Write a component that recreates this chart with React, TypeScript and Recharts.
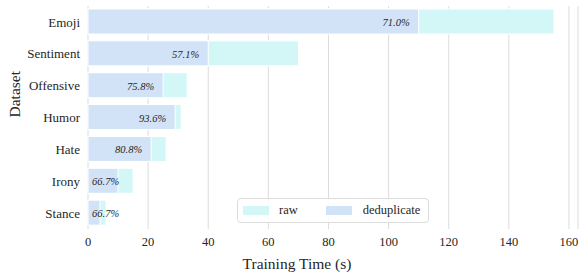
import { Bar, BarChart, CartesianGrid, LabelList, Legend, XAxis, YAxis } from "recharts";

const datasets = ["Emoji", "Sentiment", "Offensive", "Humor", "Hate", "Irony", "Stance"];
const rawTime = [155, 70, 33, 31, 26, 15, 6];
const dedupTime = [110, 40, 25, 29, 21, 10, 4];
const ratioLabels = ["71.0%", "57.1%", "75.8%", "93.6%", "80.8%", "66.7%", "66.7%"];
const xTicks = [0, 20, 40, 60, 80, 100, 120, 140, 160];

const RAW_COLOR = "#d3f7f7";
const DEDUP_COLOR = "#d2e3f8";
const TEXT = "#262626";
const FONT = "Times New Roman, Liberation Serif, Tinos, DejaVu Serif, serif";

const data = datasets.map((name, i) => ({
  name,
  raw: rawTime[i],
  dedup: dedupTime[i],
  label: ratioLabels[i],
}));

// label sits inside the dedup bar, right aligned, or left aligned when the bar is short
const RatioLabel = (props: any) => {
  const { x, y, width, height, index } = props;
  const txt = ratioLabels[index];
  const textW = 27;
  const right = x + width - 9;
  const fitsRight = right - textW >= x + 4;
  return (
    <text
      x={fitsRight ? right : x + 4}
      y={y + height / 2 + 1}
      textAnchor={fitsRight ? "end" : "start"}
      dominantBaseline="central"
      fontSize={10.5}
      fontStyle="italic"
      fill={TEXT}
      style={{ fontFamily: FONT }}
    >
      {txt}
    </text>
  );
};

const renderLegend = () => (
  <div
    style={{
      display: "flex",
      alignItems: "center",
      boxSizing: "border-box",
      width: 192,
      height: 25,
      border: "1px solid #dcdcdc",
      borderRadius: 4,
      background: "rgba(255,255,255,0.85)",
      fontFamily: FONT,
      fontSize: 12.5,
      color: TEXT,
      paddingLeft: 5,
    }}
  >
    <span style={{ width: 26, height: 9, background: RAW_COLOR, display: "inline-block" }} />
    <span style={{ marginLeft: 10 }}>raw</span>
    <span style={{ width: 26, height: 9, background: DEDUP_COLOR, display: "inline-block", marginLeft: 28 }} />
    <span style={{ marginLeft: 11 }}>deduplicate</span>
  </div>
);

const App = () => {
  return (
    <div style={{ position: "fixed", left: 0, top: 0, width: 586, height: 273, background: "#fff", fontFamily: FONT }}>
      <BarChart
        width={586}
        height={273}
        data={data}
        layout="vertical"
        margin={{ top: 6, right: 8, bottom: 0, left: 0 }}
        barSize={25}
        barGap={-25}
        style={{ fontFamily: FONT }}
      >
        <CartesianGrid horizontal={false} stroke="#dcdcdc" strokeWidth={1} />
        <XAxis
          type="number"
          domain={[0, 163]}
          ticks={xTicks}
          height={44}
          axisLine={false}
          tickLine={false}
          tick={{ fontSize: 12.5, fill: TEXT, fontFamily: FONT }}
          label={{ value: "Training Time (s)", position: "insideBottom", dx: -36, offset: 4, fontSize: 15.5, fill: TEXT, fontFamily: FONT }}
        />
        <YAxis
          type="category"
          dataKey="name"
          width={88}
          axisLine={false}
          tickLine={false}
          tick={{ fontSize: 13, fill: TEXT, fontFamily: FONT }}
          label={{ value: "Dataset", angle: -90, position: "insideLeft", offset: 14, fontSize: 15.5, fill: TEXT, fontFamily: FONT }}
        />
        <Legend
          layout="horizontal"
          verticalAlign="middle"
          align="center"
          wrapperStyle={{ position: "absolute", left: 237, top: 198, width: "auto", height: "auto" }}
          content={renderLegend}
        />
        <Bar dataKey="raw" name="raw" fill={RAW_COLOR} stroke="#fff" strokeWidth={1} isAnimationActive={false} />
        <Bar dataKey="dedup" name="deduplicate" fill={DEDUP_COLOR} stroke="#fff" strokeWidth={1} isAnimationActive={false}>
          <LabelList dataKey="label" content={RatioLabel} />
        </Bar>
      </BarChart>
    </div>
  );
};

export default App;
